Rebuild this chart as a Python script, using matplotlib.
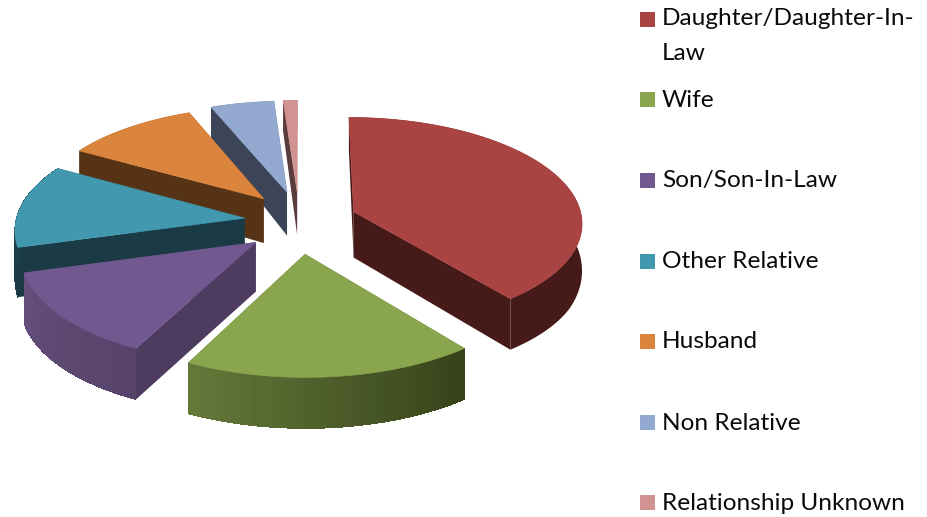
import numpy as np
import matplotlib
matplotlib.use("Agg")
import matplotlib.pyplot as plt
from matplotlib.patches import Polygon, Rectangle
from matplotlib.colors import to_rgb

labels = ["Daughter/Daughter-In-\nLaw", "Wife", "Son/Son-In-Law", "Other Relative",
          "Husband", "Non Relative", "Relationship Unknown"]
values = [39.3, 18.2, 13.1, 12.7, 10.6, 5.0, 1.1]
tops = ["#A94442", "#89A54E", "#71588F", "#4198AF", "#DB843D", "#93A9CF", "#D19392"]
faces = ["#461A18", "#364219", "#4E3C60", "#1A3A45", "#573316", "#3C4558", "#5A3C3C"]
wall_start = ["#461A18", "#364219", "#57436A", "#1A3A45", "#573316", "#3C4558", "#5A3C3C"]
wall_end = ["#461A18", "#65783A", "#644E7C", "#1E4652", "#573316", "#3C4558", "#5A3C3C"]
legend_y = [19.5, 99.5, 180, 261, 341, 422, 502]

CX, CY = 299, 222
RX, KY, D = 229, 105, 10.6
EXPL_LEFT, EXPL_RIGHT, EXPL_Y = 0.24, 0.255, 0.30

def height(Y):
    return np.minimum(51, 47 - 12 * Y)

def proj(X, Y, z=0.0):
    s = D / (D + Y)
    return CX + RX * X * s, CY - KY * Y * s + z * height(Y)

fig = plt.figure(figsize=(9.28, 5.17), dpi=100)
ax = fig.add_axes([0, 0, 1, 1])
ax.set_xlim(0, 928)
ax.set_ylim(517, 0)
ax.axis("off")

fr = np.cumsum([0] + values) / sum(values) * 2 * np.pi
order = sorted(range(len(values)), key=lambda i: -np.cos((fr[i] + fr[i + 1]) / 2))

for i in order:
    a0, a1 = fr[i], fr[i + 1]
    mid = (a0 + a1) / 2
    ox = (EXPL_RIGHT if np.sin(mid) > 0 else EXPL_LEFT) * np.sin(mid)
    oy = EXPL_Y * np.cos(mid)
    th = np.linspace(a0, a1, max(int((a1 - a0) * 40), 4))
    X = ox + np.sin(th)
    Y = oy + np.cos(th)
    # radial cut faces
    for a in (a0, a1):
        ex, ey = ox + np.sin(a), oy + np.cos(a)
        pts = [proj(ox, oy), proj(ex, ey), proj(ex, ey, 1), proj(ox, oy, 1)]
        ax.add_patch(Polygon(pts, closed=True, fc=faces[i], ec="none"))
    # outer wall: smooth underlay, then shading bands along the arc
    ca, cb = np.array(to_rgb(wall_start[i])), np.array(to_rgb(wall_end[i]))
    upper = [proj(x, y) for x, y in zip(X, Y)]
    lower = [proj(x, y, 1) for x, y in zip(X, Y)]
    ax.add_patch(Polygon(upper + lower[::-1], closed=True, fc=(ca + cb) / 2, ec="none"))
    if wall_start[i] != wall_end[i]:
        for k in range(len(th) - 1):
            t = k / max(len(th) - 2, 1)
            pts = [upper[k], upper[k + 1], lower[k + 1], lower[k]]
            ax.add_patch(Polygon(pts, closed=True, fc=ca + (cb - ca) * t, ec="none",
                                 lw=0, antialiased=False))
    # top
    pts = [proj(ox, oy)] + upper
    ax.add_patch(Polygon(pts, closed=True, fc=tops[i], ec=tops[i], lw=0.5))

for lab, c, y in zip(labels, tops, legend_y):
    ax.add_patch(Rectangle((640, y - 7.5), 15, 15, fc=c, ec="none"))
    multi = "\n" in lab
    ax.text(662, y + 7.5 + (33 if multi else 0), lab, fontsize=17.55, family="Lato",
            color="#0A0A0A", va="baseline", linespacing=1.8)

fig.savefig("out.png", dpi=100)
